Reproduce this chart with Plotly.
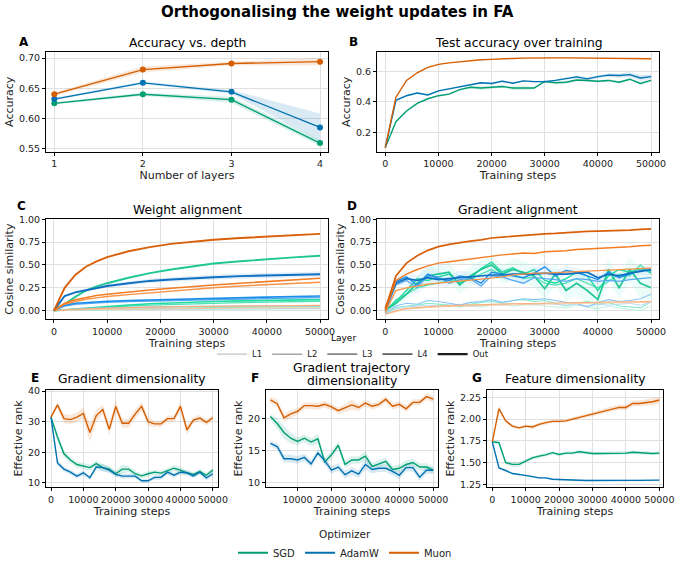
import plotly.graph_objects as go

W, H = 675, 568
FONT = "DejaVu Sans"

# ---------------- data ----------------
optimizers = ["SGD", "AdamW", "Muon"]
opt_colors = {"SGD": "#009E73", "AdamW": "#0072B2", "Muon": "#D55E00"}
layers = ["L1", "L2", "L3", "L4", "Out"]
layer_greys = ["#c4c4c4", "#a6a6a6", "#858585", "#5e5e5e", "#1e1e1e"]
layer_widths = [1.0, 1.2, 1.4, 1.6, 1.9]
layer_shades = {
    "SGD": ["#b5f2dd", "#86ecc9", "#4fe3b4", "#22dba2", "#1fc795"],
    "AdamW": ["#b1d8fb", "#88c3f7", "#56a9f1", "#1b8fe9", "#0f70c2"],
    "Muon": ["#fcc9a1", "#fbb07c", "#f99345", "#f47c22", "#d9600a"],
}

# Panel A: accuracy vs depth
depth = [1, 2, 3, 4]
acc_depth = {
    "SGD": [0.625, 0.640, 0.631, 0.559],
    "AdamW": [0.632, 0.659, 0.644, 0.585],
    "Muon": [0.640, 0.681, 0.691, 0.694],
}
acc_depth_err = {
    "SGD": [0.002, 0.003, 0.005, 0.005],
    "AdamW": [0.002, 0.002, 0.003, 0.023],
    "Muon": [0.003, 0.005, 0.003, 0.006],
}

# Panel B: test accuracy over training
steps = list(range(0, 50001, 2000))
test_acc = {
    "SGD": [0.10, 0.27, 0.34, 0.39, 0.42, 0.44, 0.45, 0.48, 0.495, 0.49, 0.495, 0.50, 0.49,
            0.49, 0.49, 0.533, 0.525, 0.528, 0.543, 0.54, 0.535, 0.54, 0.528, 0.548, 0.52, 0.54],
    "AdamW": [0.10, 0.41, 0.44, 0.458, 0.445, 0.472, 0.485, 0.50, 0.51, 0.525, 0.52, 0.535, 0.522,
              0.537, 0.532, 0.532, 0.54, 0.553, 0.563, 0.55, 0.565, 0.575, 0.572, 0.578, 0.556, 0.565],
    "Muon": [0.10, 0.43, 0.54, 0.59, 0.625, 0.645, 0.655, 0.663, 0.670, 0.675, 0.678, 0.683, 0.684,
             0.686, 0.688, 0.690, 0.688, 0.688, 0.687, 0.688, 0.688, 0.685, 0.684, 0.683, 0.682, 0.682],
}
test_acc_err = {
    "SGD": [0.003, 0.006, 0.005, 0.005, 0.005, 0.005, 0.006, 0.006, 0.008, 0.012, 0.008, 0.008, 0.012,
            0.012, 0.008, 0.006, 0.008, 0.008, 0.008, 0.008, 0.008, 0.008, 0.008, 0.008, 0.01, 0.008],
    "AdamW": [0.003, 0.004, 0.004, 0.005, 0.005, 0.005, 0.005, 0.005, 0.006, 0.006, 0.008, 0.008, 0.006,
              0.006, 0.006, 0.006, 0.006, 0.008, 0.01, 0.01, 0.01, 0.012, 0.014, 0.016, 0.02, 0.016],
    "Muon": [0.002, 0.003, 0.003, 0.003, 0.003, 0.003, 0.003, 0.003, 0.003, 0.003, 0.003, 0.003, 0.003,
             0.003, 0.004, 0.004, 0.004, 0.004, 0.003, 0.003, 0.003, 0.003, 0.003, 0.003, 0.003, 0.003],
}

# Panel C: weight alignment (per layer)
steps_c = [0, 2000, 4000, 6000, 8000, 10000, 14000, 18000, 22000, 26000, 30000, 35000, 40000, 45000, 50000]
weight_align = {
    "SGD": {
        "L1": [0, 0.002, 0.003, 0.005, 0.006, 0.007, 0.009, 0.011, 0.013, 0.014, 0.015, 0.016, 0.017, 0.018, 0.019],
        "L2": [0, 0.003, 0.006, 0.009, 0.012, 0.015, 0.02, 0.024, 0.028, 0.031, 0.034, 0.037, 0.039, 0.041, 0.043],
        "L3": [0, 0.008, 0.016, 0.024, 0.032, 0.039, 0.05, 0.06, 0.068, 0.075, 0.081, 0.088, 0.093, 0.098, 0.102],
        "L4": [0, 0.01, 0.02, 0.03, 0.04, 0.048, 0.062, 0.075, 0.085, 0.093, 0.10, 0.107, 0.112, 0.117, 0.12],
        "Out": [0, 0.07, 0.15, 0.22, 0.265, 0.30, 0.36, 0.41, 0.45, 0.485, 0.515, 0.54, 0.565, 0.583, 0.60],
    },
    "AdamW": {
        "L1": [0, 0.004, 0.007, 0.009, 0.011, 0.013, 0.015, 0.017, 0.019, 0.02, 0.021, 0.022, 0.023, 0.024, 0.025],
        "L2": [0, 0.01, 0.018, 0.024, 0.028, 0.031, 0.036, 0.04, 0.043, 0.046, 0.048, 0.05, 0.052, 0.054, 0.055],
        "L3": [0, 0.05, 0.07, 0.08, 0.087, 0.092, 0.10, 0.106, 0.111, 0.116, 0.12, 0.126, 0.132, 0.138, 0.143],
        "L4": [0, 0.06, 0.08, 0.09, 0.097, 0.103, 0.11, 0.117, 0.123, 0.128, 0.133, 0.14, 0.148, 0.155, 0.16],
        "Out": [0, 0.16, 0.20, 0.225, 0.25, 0.27, 0.30, 0.325, 0.34, 0.355, 0.365, 0.378, 0.387, 0.393, 0.398],
    },
    "Muon": {
        "L1": [0, 0.005, 0.008, 0.01, 0.012, 0.014, 0.017, 0.02, 0.022, 0.024, 0.026, 0.027, 0.028, 0.029, 0.03],
        "L2": [0, 0.01, 0.015, 0.02, 0.025, 0.028, 0.033, 0.038, 0.042, 0.045, 0.048, 0.051, 0.053, 0.055, 0.057],
        "L3": [0, 0.07, 0.10, 0.125, 0.14, 0.155, 0.175, 0.195, 0.215, 0.235, 0.25, 0.27, 0.285, 0.30, 0.31],
        "L4": [0, 0.08, 0.12, 0.145, 0.165, 0.18, 0.205, 0.225, 0.245, 0.265, 0.28, 0.30, 0.32, 0.34, 0.355],
        "Out": [0, 0.25, 0.39, 0.48, 0.54, 0.585, 0.65, 0.695, 0.73, 0.755, 0.775, 0.795, 0.812, 0.828, 0.84],
    },
}
weight_align_err_adamw_out = [0, 0.01, 0.015, 0.018, 0.02, 0.02, 0.022, 0.024, 0.025, 0.026, 0.027, 0.028, 0.029, 0.03, 0.03]

# Panel D: gradient alignment (per layer)
grad_align = {
    "SGD": {
        "L1": [-0.04, 0.0, 0.02, 0.03, 0.04, 0.05, 0.04, 0.06, 0.05, 0.04, 0.06, 0.07, 0.05, 0.06, 0.07, 0.05, 0.04, 0.03, 0.06, 0.04, 0.02, 0.05, 0.03, 0.01, 0.0, 0.05],
        "L2": [-0.03, 0.03, 0.05, 0.06, 0.08, 0.07, 0.06, 0.04, 0.07, 0.09, 0.10, 0.08, 0.11, 0.12, 0.10, 0.11, 0.08, 0.05, 0.08, 0.10, 0.07, 0.09, 0.05, 0.04, 0.03, 0.10],
        "L3": [-0.01, 0.12, 0.18, 0.25, 0.28, 0.30, 0.33, 0.32, 0.34, 0.40, 0.45, 0.38, 0.40, 0.35, 0.37, 0.30, 0.28, 0.30, 0.35, 0.30, 0.25, 0.32, 0.40, 0.38, 0.50, 0.40],
        "L4": [0.0, 0.10, 0.22, 0.35, 0.33, 0.37, 0.40, 0.30, 0.35, 0.46, 0.53, 0.42, 0.47, 0.40, 0.45, 0.33, 0.30, 0.35, 0.42, 0.38, 0.22, 0.38, 0.45, 0.42, 0.46, 0.42],
        "Out": [0.0, 0.08, 0.18, 0.30, 0.38, 0.40, 0.42, 0.28, 0.38, 0.45, 0.50, 0.40, 0.45, 0.42, 0.38, 0.24, 0.40, 0.22, 0.30, 0.22, 0.12, 0.45, 0.25, 0.45, 0.30, 0.25],
    },
    "AdamW": {
        "L1": [-0.04, 0.02, 0.04, 0.05, 0.06, 0.05, 0.06, 0.07, 0.05, 0.06, 0.07, 0.06, 0.08, 0.07, 0.06, 0.08, 0.07, 0.06, 0.07, 0.05, 0.07, 0.06, 0.07, 0.08, 0.06, 0.09],
        "L2": [-0.03, 0.05, 0.08, 0.07, 0.11, 0.10, 0.08, 0.06, 0.09, 0.10, 0.12, 0.09, 0.11, 0.13, 0.12, 0.13, 0.11, 0.09, 0.08, 0.04, 0.09, 0.12, 0.10, 0.11, 0.13, 0.18],
        "L3": [-0.02, 0.28, 0.33, 0.25, 0.38, 0.37, 0.30, 0.34, 0.35, 0.27, 0.38, 0.37, 0.33, 0.30, 0.36, 0.35, 0.34, 0.32, 0.35, 0.34, 0.32, 0.33, 0.32, 0.34, 0.35, 0.36],
        "L4": [0.0, 0.32, 0.37, 0.28, 0.40, 0.35, 0.33, 0.38, 0.36, 0.30, 0.42, 0.40, 0.38, 0.36, 0.41, 0.48, 0.38, 0.44, 0.42, 0.38, 0.34, 0.42, 0.36, 0.40, 0.44, 0.44],
        "Out": [0.02, 0.30, 0.35, 0.33, 0.36, 0.34, 0.35, 0.36, 0.37, 0.38, 0.39, 0.39, 0.40, 0.40, 0.40, 0.41, 0.40, 0.40, 0.41, 0.42, 0.36, 0.40, 0.38, 0.41, 0.43, 0.45],
    },
    "Muon": {
        "L1": [-0.04, -0.01, 0.015, 0.025, 0.035, 0.04, 0.045, 0.05, 0.053, 0.056, 0.06, 0.062, 0.065, 0.068, 0.07, 0.072, 0.073, 0.075, 0.077, 0.08, 0.082, 0.084, 0.085, 0.087, 0.089, 0.09],
        "L2": [-0.04, 0.0, 0.025, 0.035, 0.045, 0.05, 0.055, 0.06, 0.063, 0.066, 0.07, 0.072, 0.075, 0.078, 0.08, 0.082, 0.083, 0.085, 0.087, 0.09, 0.092, 0.094, 0.095, 0.097, 0.099, 0.10],
        "L3": [-0.02, 0.22, 0.25, 0.27, 0.29, 0.30, 0.31, 0.32, 0.33, 0.34, 0.355, 0.37, 0.39, 0.40, 0.41, 0.41, 0.415, 0.42, 0.43, 0.43, 0.435, 0.44, 0.445, 0.455, 0.46, 0.465],
        "L4": [0.0, 0.33, 0.40, 0.45, 0.49, 0.52, 0.535, 0.55, 0.565, 0.58, 0.60, 0.61, 0.62, 0.63, 0.625, 0.645, 0.65, 0.655, 0.67, 0.675, 0.685, 0.685, 0.69, 0.70, 0.71, 0.715],
        "Out": [0.02, 0.38, 0.52, 0.60, 0.66, 0.70, 0.725, 0.745, 0.76, 0.775, 0.795, 0.805, 0.815, 0.825, 0.83, 0.84, 0.845, 0.855, 0.865, 0.868, 0.87, 0.872, 0.875, 0.882, 0.89, 0.895],
    },
}
grad_align_err_sgd = [0.01, 0.04, 0.06, 0.08, 0.09, 0.1, 0.1, 0.1, 0.1, 0.1, 0.1, 0.1, 0.12, 0.12, 0.12, 0.12, 0.12, 0.12, 0.12, 0.14, 0.16, 0.12, 0.12, 0.14, 0.16, 0.14]
grad_align_err_adamw = [0.01, 0.05, 0.08, 0.1, 0.12, 0.08, 0.06, 0.06, 0.06, 0.06, 0.06, 0.06, 0.06, 0.06, 0.06, 0.06, 0.05, 0.05, 0.05, 0.05, 0.06, 0.05, 0.05, 0.05, 0.05, 0.05]

# Panel E: gradient dimensionality
grad_dim = {
    "SGD": [31.5, 25, 19.5, 17.5, 16, 15.5, 15, 16.3, 15, 14.5, 13, 14.5, 14.5, 13, 12.3, 13, 13.5, 13.2, 14, 14.8, 14.2, 13.3, 12.8, 13.7, 12.5, 14.2],
    "AdamW": [31.5, 16.5, 14.5, 13.5, 12.2, 13.3, 11.7, 15.2, 15, 14.2, 12.8, 12.2, 12.2, 12.2, 10.7, 10.7, 11.8, 11.8, 13.5, 12.5, 13.5, 13.3, 12.3, 13.5, 11.6, 13],
    "Muon": [31.5, 35.5, 31, 30.7, 31.5, 32.7, 26.5, 32, 34, 27.5, 35, 29.5, 29.5, 32.5, 35, 30, 29.3, 29.3, 31, 31, 35, 27.3, 30.5, 31.2, 29.8, 31.3],
}
grad_dim_err = {
    "SGD": [0.3, 1.5, 1.2, 1.0, 1.0, 1.0, 1.0, 1.0, 1.2, 1.0, 1.0, 1.5, 1.0, 1.0, 0.8, 0.8, 0.8, 0.8, 1.0, 1.0, 1.0, 0.8, 0.8, 0.8, 0.8, 0.8],
    "AdamW": [0.3, 1.0, 0.8, 0.8, 0.8, 0.8, 0.8, 1.0, 1.2, 1.0, 0.8, 0.8, 0.8, 0.8, 0.6, 0.6, 0.8, 0.8, 0.8, 0.8, 0.8, 0.8, 0.8, 0.8, 0.8, 0.8],
    "Muon": [0.5, 1.0, 1.5, 1.5, 1.5, 2.0, 3.0, 2.0, 1.5, 2.0, 2.0, 1.5, 1.5, 1.5, 1.5, 1.5, 1.0, 1.0, 1.0, 1.0, 1.5, 1.5, 1.0, 1.0, 1.0, 1.0],
}

# Panel F: gradient trajectory dimensionality
steps_f = list(range(2000, 50001, 2000))
traj_dim = {
    "SGD": [20.3, 19.2, 17.8, 16.9, 16.4, 16.9, 16.3, 16.8, 13.2, 14.3, 15.8, 12.8, 13.5, 13.5, 14.1, 12.5, 12.9, 13.3, 12.0, 12.2, 12.8, 13.1, 12.4, 12.4, 11.9],
    "AdamW": [16.1, 15.6, 13.7, 13.7, 13.5, 13.9, 12.9, 14.6, 13.4, 11.9, 12.4, 11.2, 11.8, 11.3, 12.8, 12.0, 12.2, 12.2, 11.7, 11.1, 12.3, 12.3, 10.8, 11.9, 11.9],
    "Muon": [22.9, 22.3, 20.1, 20.7, 21.1, 22.0, 22.0, 21.9, 22.2, 21.8, 21.2, 21.6, 22.1, 21.7, 22.4, 21.9, 22.2, 23.0, 21.9, 22.2, 21.5, 22.5, 22.5, 23.4, 23.0],
}
traj_dim_err = {
    "SGD": [0.4, 0.8, 1.0, 0.8, 0.6, 0.6, 0.6, 0.8, 0.6, 0.6, 0.6, 0.6, 0.6, 0.6, 0.8, 0.6, 0.6, 0.6, 0.6, 0.6, 0.6, 0.6, 0.6, 0.6, 0.5],
    "AdamW": [0.4, 0.5, 0.6, 0.6, 0.6, 0.6, 0.6, 0.6, 0.6, 0.6, 0.6, 0.6, 0.6, 0.6, 0.8, 0.6, 0.6, 0.6, 0.6, 0.6, 0.6, 0.6, 0.6, 0.6, 0.5],
    "Muon": [0.5, 0.6, 0.6, 0.6, 0.5, 0.5, 0.5, 0.5, 0.5, 0.5, 0.5, 0.6, 0.8, 0.5, 0.5, 0.5, 0.5, 0.5, 0.5, 0.5, 0.5, 0.5, 0.5, 0.5, 0.5],
}

# Panel G: feature dimensionality
feat_dim = {
    "SGD": [1.74, 1.73, 1.50, 1.48, 1.48, 1.52, 1.555, 1.575, 1.59, 1.615, 1.595, 1.61, 1.61, 1.625, 1.615, 1.605, 1.605, 1.605, 1.605, 1.61, 1.61, 1.62, 1.615, 1.61, 1.605, 1.61],
    "AdamW": [1.74, 1.44, 1.41, 1.375, 1.365, 1.355, 1.34, 1.325, 1.325, 1.31, 1.305, 1.302, 1.298, 1.298, 1.296, 1.295, 1.295, 1.293, 1.297, 1.297, 1.297, 1.297, 1.297, 1.297, 1.297, 1.30],
    "Muon": [1.74, 2.12, 1.98, 1.92, 1.90, 1.92, 1.91, 1.94, 1.96, 1.975, 1.975, 1.98, 2.0, 2.02, 2.04, 2.06, 2.08, 2.10, 2.12, 2.135, 2.135, 2.18, 2.18, 2.19, 2.20, 2.22],
}
feat_dim_err = {
    "SGD": [0.01, 0.03, 0.02, 0.03, 0.03, 0.02, 0.02, 0.02, 0.02, 0.02, 0.02, 0.02, 0.02, 0.02, 0.02, 0.02, 0.02, 0.02, 0.02, 0.02, 0.02, 0.02, 0.02, 0.02, 0.02, 0.02],
    "AdamW": [0.01, 0.01, 0.01, 0.01, 0.01, 0.01, 0.01, 0.01, 0.01, 0.01, 0.01, 0.01, 0.01, 0.01, 0.01, 0.01, 0.01, 0.01, 0.01, 0.01, 0.01, 0.01, 0.01, 0.01, 0.01, 0.01],
    "Muon": [0.01, 0.04, 0.02, 0.02, 0.02, 0.02, 0.02, 0.02, 0.02, 0.02, 0.02, 0.02, 0.02, 0.02, 0.025, 0.025, 0.025, 0.03, 0.03, 0.03, 0.03, 0.035, 0.035, 0.035, 0.04, 0.04],
}

# ---------------- figure ----------------
def hex_rgba(h, a):
    h = h.lstrip("#")
    return "rgba(%d,%d,%d,%.3f)" % (int(h[0:2], 16), int(h[2:4], 16), int(h[4:6], 16), a)

fig = go.Figure()

def band(x, y, e, color, ax, alpha=0.15):
    up = [a + b for a, b in zip(y, e)]
    lo = [a - b for a, b in zip(y, e)]
    fig.add_trace(go.Scatter(x=list(x) + list(x)[::-1], y=up + lo[::-1], mode="lines", fill="toself",
                             fillcolor=hex_rgba(color, alpha), line=dict(width=0),
                             hoverinfo="skip", showlegend=False, xaxis="x" + ax, yaxis="y" + ax))

def line(x, y, color, ax, width=1.4, mode="lines", marker=None):
    fig.add_trace(go.Scatter(x=x, y=y, mode=mode, line=dict(color=color, width=width),
                             marker=marker, showlegend=False, xaxis="x" + ax, yaxis="y" + ax))

# A
for o in optimizers:
    band(depth, acc_depth[o], acc_depth_err[o], opt_colors[o], "")
for o in optimizers:
    line(depth, acc_depth[o], opt_colors[o], "", 1.3, "lines+markers", dict(size=6, color=opt_colors[o]))
# B
for o in optimizers:
    band(steps, test_acc[o], test_acc_err[o], opt_colors[o], "2")
for o in optimizers:
    line(steps, test_acc[o], opt_colors[o], "2", 1.4)
# C
band(steps_c, weight_align["AdamW"]["Out"], weight_align_err_adamw_out, layer_shades["AdamW"][4], "3", 0.12)
for o in optimizers:
    for i, l in enumerate(layers):
        line(steps_c, weight_align[o][l], layer_shades[o][i], "3", layer_widths[i])
# D
band(steps, grad_align["SGD"]["Out"], grad_align_err_sgd, "#5fe8c8", "4", 0.12)
band(steps, grad_align["AdamW"]["L4"], grad_align_err_adamw, "#6fb8f5", "4", 0.12)
for o in optimizers:
    for i, l in enumerate(layers):
        line(steps, grad_align[o][l], layer_shades[o][i], "4", layer_widths[i] * 0.9)
# E
for o in optimizers:
    band(steps, grad_dim[o], grad_dim_err[o], opt_colors[o], "5")
for o in optimizers:
    line(steps, grad_dim[o], opt_colors[o], "5", 1.4)
# F
for o in optimizers:
    band(steps_f, traj_dim[o], traj_dim_err[o], opt_colors[o], "6")
for o in optimizers:
    line(steps_f, traj_dim[o], opt_colors[o], "6", 1.4)
# G
for o in optimizers:
    band(steps, feat_dim[o], feat_dim_err[o], opt_colors[o], "7")
for o in optimizers:
    line(steps, feat_dim[o], opt_colors[o], "7", 1.4)

# legends (dummy entries)
for o in optimizers:
    fig.add_trace(go.Scatter(x=[None], y=[None], mode="lines", name=o,
                             line=dict(color=opt_colors[o], width=2), legend="legend"))
for i, l in enumerate(layers):
    fig.add_trace(go.Scatter(x=[None], y=[None], mode="lines", name=l,
                             line=dict(color=layer_greys[i], width=layer_widths[i] + 0.3), legend="legend2"))

# ---------------- layout ----------------
def xd(l, r):
    return [l / W, r / W]

def yd(t, b):
    return [1 - b / H, 1 - t / H]

tickfont = dict(family=FONT, size=9.5, color="#222")
titlefont = dict(family=FONT, size=11, color="#222")

def axis(domain, rng, anchor, title=None, tickvals=None, ticktext=None, standoff=3):
    d = dict(domain=domain, range=rng, anchor=anchor, showline=True, mirror=True,
             linecolor="black", linewidth=1, ticks="outside", ticklen=3, tickwidth=0.8,
             tickcolor="black", showgrid=True, gridcolor="#e0e0e0", gridwidth=1,
             zeroline=False, tickfont=tickfont, automargin=False)
    if title:
        d["title"] = dict(text=title, font=titlefont, standoff=standoff)
    if tickvals is not None:
        d["tickvals"] = tickvals
        if ticktext is not None:
            d["ticktext"] = ticktext
    return d

xt = [0, 10000, 20000, 30000, 40000, 50000]
xtt = ["0", "10000", "20000", "30000", "40000", "50000"]

dA = (xd(46, 328), yd(53, 155))
dB = (xd(377, 659), yd(53, 155))
dC = (xd(46, 328), yd(224, 326))
dD = (xd(377, 659), yd(224, 326))
dE = (xd(46, 218), yd(398, 498))
dF = (xd(266, 438), yd(398, 498))
dG = (xd(487, 663), yd(398, 498))

fig.update_layout(
    width=W, height=H, margin=dict(l=0, r=0, t=0, b=0),
    paper_bgcolor="white", plot_bgcolor="white",
    font=dict(family=FONT, color="#222"),
    xaxis=axis(dA[0], [0.906, 4.09], "y", "Number of layers", [1, 2, 3, 4], ["1", "2", "3", "4"]),
    yaxis=axis(dA[1], [0.5446, 0.7103], "x", "Accuracy", [0.55, 0.60, 0.65, 0.70], ["0.55", "0.60", "0.65", "0.70"]),
    xaxis2=axis(dB[0], [-1560, 51500], "y2", "Training steps", xt, xtt),
    yaxis2=axis(dB[1], [0.073, 0.727], "x2", "Accuracy", [0.2, 0.4, 0.6], ["0.2", "0.4", "0.6"]),
    xaxis3=axis(dC[0], [-1500, 51500], "y3", "Training steps", xt, xtt),
    yaxis3=axis(dC[1], [-0.093, 1.0], "x3", "Cosine similarity", [0, 0.25, 0.5, 0.75, 1.0], ["0.00", "0.25", "0.50", "0.75", "1.00"]),
    xaxis4=axis(dD[0], [-1560, 51500], "y4", "Training steps", xt, xtt),
    yaxis4=axis(dD[1], [-0.093, 1.0], "x4", "Cosine similarity", [0, 0.25, 0.5, 0.75, 1.0], ["0.00", "0.25", "0.50", "0.75", "1.00"]),
    xaxis5=axis(dE[0], [-1550, 51600], "y5", "Training steps", xt, xtt),
    yaxis5=axis(dE[1], [8.5, 40.5], "x5", "Effective rank", [10, 20, 30, 40], ["10", "20", "30", "40"]),
    xaxis6=axis(dF[0], [700, 51400], "y6", "Training steps", xt[1:], xtt[1:]),
    yaxis6=axis(dF[1], [9.2, 24.5], "x6", "Effective rank", [10, 15, 20], ["10", "15", "20"]),
    xaxis7=axis(dG[0], [-1590, 51100], "y7", "Training steps", xt, xtt),
    yaxis7=axis(dG[1], [1.215, 2.34], "x7", "Effective rank", [1.25, 1.5, 1.75, 2.0, 2.25], ["1.25", "1.50", "1.75", "2.00", "2.25"]),
    legend=dict(orientation="h", x=345 / W, xanchor="center", y=1 - 536 / H, yanchor="top",
                title=dict(text="Optimizer", side="top center", font=dict(family=FONT, size=10.5)),
                font=dict(family=FONT, size=10), bgcolor="rgba(0,0,0,0)", itemwidth=30),
    legend2=dict(orientation="h", x=212 / W, xanchor="left", y=1 - 347 / H, yanchor="top",
                 font=dict(family=FONT, size=8.5), bgcolor="rgba(0,0,0,0)", itemwidth=30),
    showlegend=True,
)

ann = []
def text(x, y, s, size, bold=False, xanchor="center"):
    ann.append(dict(x=x / W, y=1 - y / H, xref="paper", yref="paper", text=("<b>%s</b>" % s) if bold else s,
                    showarrow=False, xanchor=xanchor, yanchor="middle",
                    font=dict(family=FONT, size=size, color="black")))

text(337, 12, "Orthogonalising the weight updates in FA", 15, True)
text(187, 44, "Accuracy vs. depth", 12.3)
text(518, 44, "Test accuracy over training", 12.3)
text(187, 215, "Weight alignment", 12.3)
text(518, 215, "Gradient alignment", 12.3)
text(132, 387, "Gradient dimensionality", 12.3)
text(352, 376, "Gradient trajectory", 12.3)
text(352, 389, "dimensionality", 12.3)
text(575, 387, "Feature dimensionality", 12.3)
text(343, 345, "Layer", 9)
for lab, x, y in [("A", 17, 43), ("B", 347, 43), ("C", 15, 210), ("D", 345, 210),
                  ("E", 29, 386), ("F", 249, 386), ("G", 470, 386)]:
    text(x, y, lab, 12, True, "left")
fig.update_layout(annotations=ann)

fig.write_html("out.html")
